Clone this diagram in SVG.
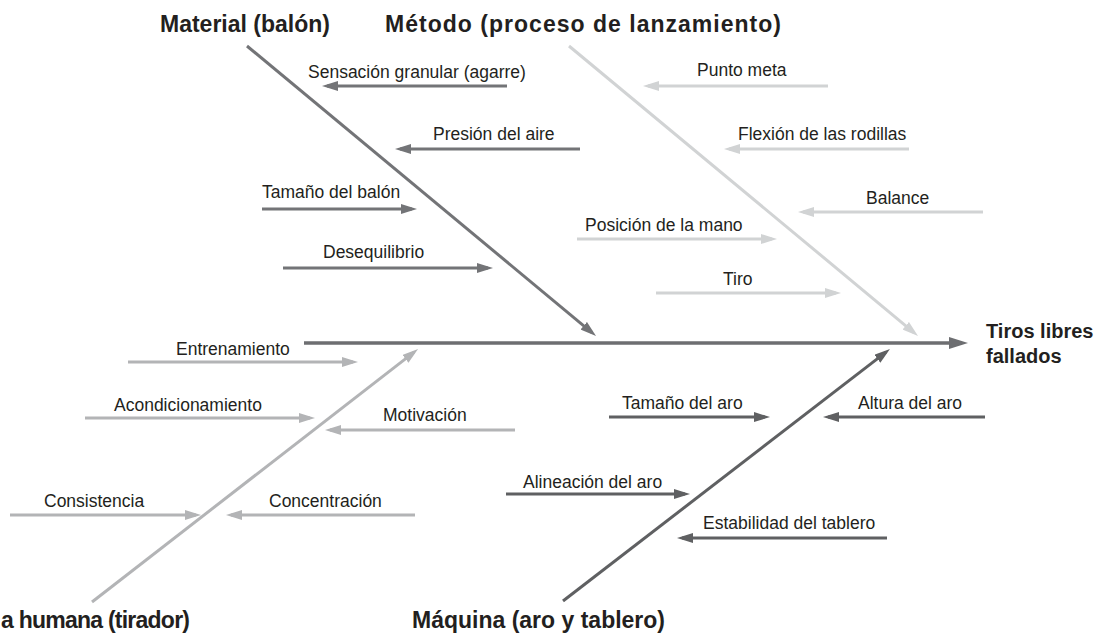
<svg xmlns="http://www.w3.org/2000/svg" width="1105" height="635" viewBox="0 0 1105 635">
<style>
text{font-family:"Liberation Sans",Arial,Helvetica,sans-serif;fill:#231f20}
.lbl{font-size:17.5px}
.cat{font-size:23px;font-weight:bold}
.eff{font-size:20px;font-weight:bold}
.mat{stroke:#737477;stroke-width:3;fill:none}
.met{stroke:#d1d3d4;stroke-width:3;fill:none}
.hum{stroke:#b3b4b6;stroke-width:3;fill:none}
.mac{stroke:#5f6062;stroke-width:3;fill:none}
.spine{stroke:#6d6e71;stroke-width:3.5;fill:none}
</style>
<defs>
<marker id="aMat" viewBox="0 0 16 10" markerWidth="16" markerHeight="10" markerUnits="userSpaceOnUse" refX="11" refY="5" orient="auto"><path d="M0,0 L16,5 L0,10 Z" fill="#737477"/></marker>
<marker id="aMet" viewBox="0 0 16 10" markerWidth="16" markerHeight="10" markerUnits="userSpaceOnUse" refX="11" refY="5" orient="auto"><path d="M0,0 L16,5 L0,10 Z" fill="#d1d3d4"/></marker>
<marker id="aHum" viewBox="0 0 16 10" markerWidth="16" markerHeight="10" markerUnits="userSpaceOnUse" refX="11" refY="5" orient="auto"><path d="M0,0 L16,5 L0,10 Z" fill="#b3b4b6"/></marker>
<marker id="aMac" viewBox="0 0 16 10" markerWidth="16" markerHeight="10" markerUnits="userSpaceOnUse" refX="11" refY="5" orient="auto"><path d="M0,0 L16,5 L0,10 Z" fill="#5f6062"/></marker>
<marker id="aSpine" viewBox="0 0 19 12" markerWidth="19" markerHeight="12" markerUnits="userSpaceOnUse" refX="13" refY="6" orient="auto"><path d="M0,0 L19,6 L0,12 Z" fill="#6d6e71"/></marker>
</defs>

<g id="connectors">
  <line class="spine" x1="304" y1="343" x2="962" y2="343" marker-end="url(#aSpine)"/>
  <line class="mat" x1="247" y1="46" x2="592.2" y2="332.8" marker-end="url(#aMat)"/>
  <line class="met" x1="569" y1="46" x2="914.2" y2="332.8" marker-end="url(#aMet)"/>
  <line class="hum" x1="92" y1="602" x2="414.1" y2="352.1" marker-end="url(#aHum)"/>
  <line class="mac" x1="563" y1="601" x2="886" y2="352.1" marker-end="url(#aMac)"/>

  <line class="mat" x1="507" y1="86" x2="327" y2="86" marker-end="url(#aMat)"/>
  <line class="mat" x1="580" y1="149" x2="400" y2="149" marker-end="url(#aMat)"/>
  <line class="mat" x1="262" y1="209" x2="412" y2="209" marker-end="url(#aMat)"/>
  <line class="mat" x1="283" y1="268" x2="488" y2="268" marker-end="url(#aMat)"/>

  <line class="met" x1="828" y1="86" x2="648" y2="86" marker-end="url(#aMet)"/>
  <line class="met" x1="909" y1="149" x2="729" y2="149" marker-end="url(#aMet)"/>
  <line class="met" x1="983" y1="212" x2="803" y2="212" marker-end="url(#aMet)"/>
  <line class="met" x1="577" y1="239" x2="772" y2="239" marker-end="url(#aMet)"/>
  <line class="met" x1="656" y1="293" x2="836" y2="293" marker-end="url(#aMet)"/>

  <line class="hum" x1="128" y1="362" x2="353" y2="362" marker-end="url(#aHum)"/>
  <line class="hum" x1="85" y1="418" x2="310" y2="418" marker-end="url(#aHum)"/>
  <line class="hum" x1="515" y1="430" x2="330" y2="430" marker-end="url(#aHum)"/>
  <line class="hum" x1="10" y1="515" x2="196" y2="515" marker-end="url(#aHum)"/>
  <line class="hum" x1="415" y1="515" x2="231" y2="515" marker-end="url(#aHum)"/>

  <line class="mac" x1="609" y1="417" x2="765" y2="417" marker-end="url(#aMac)"/>
  <line class="mac" x1="985" y1="417" x2="828" y2="417" marker-end="url(#aMac)"/>
  <line class="mac" x1="506" y1="494" x2="685" y2="494" marker-end="url(#aMac)"/>
  <line class="mac" x1="887" y1="538" x2="682" y2="538" marker-end="url(#aMac)"/>
</g>

<g id="effect"><text class="eff" x="986" y="338">Tiros libres</text><text class="eff" x="986" y="363">fallados</text></g>

<g id="cat-material"><text class="cat" x="160" y="32">Material (balón)</text></g>
<g id="cat-metodo"><text class="cat" x="385" y="32" textLength="396">Método (proceso de lanzamiento)</text></g>
<g id="cat-humana"><text class="cat" x="1" y="628" textLength="189">a humana (tirador)</text></g>
<g id="cat-maquina"><text class="cat" x="412" y="628">Máquina (aro y tablero)</text></g>

<g id="c-sensacion"><text class="lbl" x="308" y="78">Sensación granular (agarre)</text></g>
<g id="c-presion"><text class="lbl" x="433" y="140">Presión del aire</text></g>
<g id="c-tamano-balon"><text class="lbl" x="262" y="198">Tamaño del balón</text></g>
<g id="c-desequilibrio"><text class="lbl" x="323" y="258">Desequilibrio</text></g>

<g id="c-punto-meta"><text class="lbl" x="697" y="76">Punto meta</text></g>
<g id="c-flexion"><text class="lbl" x="738" y="140">Flexión de las rodillas</text></g>
<g id="c-balance"><text class="lbl" x="866" y="204">Balance</text></g>
<g id="c-posicion"><text class="lbl" x="585" y="231">Posición de la mano</text></g>
<g id="c-tiro"><text class="lbl" x="723" y="285">Tiro</text></g>

<g id="c-entrenamiento"><text class="lbl" x="176" y="355">Entrenamiento</text></g>
<g id="c-acondicionamiento"><text class="lbl" x="114" y="411">Acondicionamiento</text></g>
<g id="c-motivacion"><text class="lbl" x="383" y="421">Motivación</text></g>
<g id="c-consistencia"><text class="lbl" x="44" y="507">Consistencia</text></g>
<g id="c-concentracion"><text class="lbl" x="269" y="507">Concentración</text></g>

<g id="c-tamano-aro"><text class="lbl" x="622" y="409">Tamaño del aro</text></g>
<g id="c-altura-aro"><text class="lbl" x="858" y="409">Altura del aro</text></g>
<g id="c-alineacion"><text class="lbl" x="523" y="488">Alineación del aro</text></g>
<g id="c-estabilidad"><text class="lbl" x="703" y="529">Estabilidad del tablero</text></g>
</svg>
